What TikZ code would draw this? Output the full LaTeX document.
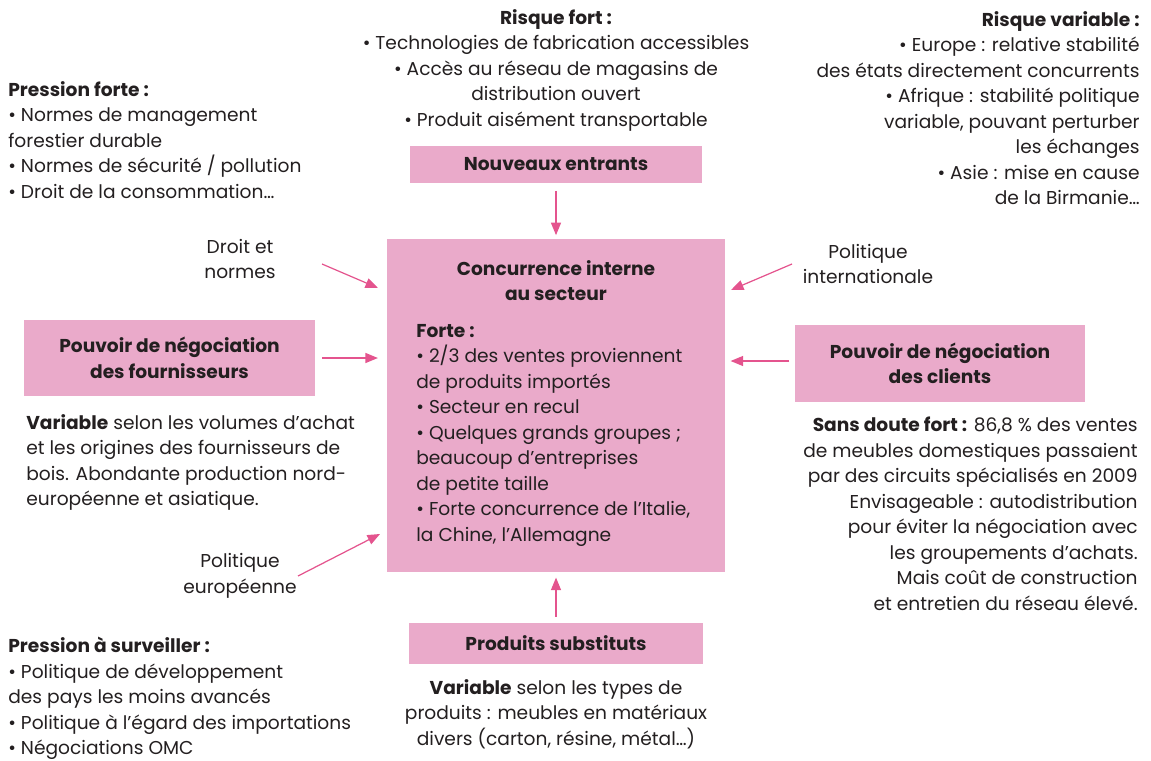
\documentclass[tikz,border=0pt]{standalone}
\usepackage{fontspec}
\setmainfont{Poppins}
\usetikzlibrary{arrows.meta}

\definecolor{boxpink}{RGB}{234,170,202}
\definecolor{arrowpink}{RGB}{228,84,142}
\definecolor{inkgray}{RGB}{35,31,32}

\tikzset{
  force/.style={fill=boxpink, inner sep=0pt, align=center, text=inkgray, font=\fontsize{10.6}{14.5}\selectfont\bfseries},
  txt/.style={inner sep=0pt, text=inkgray, font=\fontsize{10.6}{14.5}\selectfont},
  arr/.style={arrowpink, line width=0.7pt, -{Triangle[length=0.25cm,width=0.2cm]}},
}

\begin{document}
\begin{tikzpicture}[x=0.02cm, y=-0.02cm]
\useasboundingbox (0,0) rectangle (1151,760);

\node[force, minimum width=5.86cm, minimum height=0.76cm] (entrants) at (556,164.5) {Nouveaux entrants};
\node[force, minimum width=6.76cm, minimum height=6.66cm] (conc) at (556,405.5) {};
\node[force, minimum width=5.82cm, minimum height=1.52cm] (fourn) at (169.5,358) {Pouvoir de négociation\\des fournisseurs};
\node[force, minimum width=5.8cm, minimum height=1.54cm] (clients) at (940,363.5) {Pouvoir de négociation\\des clients};
\node[force, minimum width=5.9cm, minimum height=0.82cm] (subst) at (556,643) {Produits substituts};

\node[txt, align=center, anchor=north, font=\fontsize{10.6}{14.5}\selectfont\bfseries] (conctitle) at (556,260) {Concurrence interne\\au secteur};
\node[txt, align=left, anchor=north west] (concinfo) at (416,324) {\textbf{Forte :}\\
• 2/3 des ventes proviennent\\
de produits importés\\
• Secteur en recul\\
• Quelques grands groupes ;\\
beaucoup d’entreprises\\
de petite taille\\
• Forte concurrence de l’Italie,\\
la Chine, l’Allemagne};

\node[txt, align=center, anchor=north] (risquefort) at (556,9) {\textbf{Risque fort :}\\
• Technologies de fabrication accessibles\\
• Accès au réseau de magasins de\\
distribution ouvert\\
• Produit aisément transportable};

\node[txt, align=right, anchor=north east] (risquevar) at (1140,11) {\textbf{Risque variable :}\\
• Europe : relative stabilité\\
des états directement concurrents\\
• Afrique : stabilité politique\\
variable, pouvant perturber\\
les échanges\\
• Asie : mise en cause\\
de la Birmanie…};

\node[txt, align=left, anchor=north west] (pressforte) at (8,81) {\textbf{Pression forte :}\\
• Normes de management\\
forestier durable\\
• Normes de sécurité / pollution\\
• Droit de la consommation…};

\node[txt, align=left, anchor=north west] (fourninfo) at (26,414) {\textbf{Variable} selon les volumes d’achat\\
et les origines des fournisseurs de\\
bois. Abondante production nord-\\
européenne et asiatique.};

\node[txt, align=right, anchor=north east] (clientsinfo) at (1138,417) {\textbf{Sans doute fort :} 86,8 \% des ventes\\
de meubles domestiques passaient\\
par des circuits spécialisés en 2009\\
Envisageable : autodistribution\\
pour éviter la négociation avec\\
les groupements d’achats.\\
Mais coût de construction\\
et entretien du réseau élevé.};

\node[txt, align=left, anchor=north west] (presssurv) at (8,637) {\textbf{Pression à surveiller :}\\
• Politique de développement\\
des pays les moins avancés\\
• Politique à l’égard des importations\\
• Négociations OMC};

\node[txt, align=center, anchor=north] (substinfo) at (556,679) {\textbf{Variable} selon les types de\\
produits : meubles en matériaux\\
divers (carton, résine, métal…)};

\node[txt, align=center] (droit) at (240,259) {Droit et\\normes};
\node[txt, align=center] (polint) at (868,264) {Politique\\internationale};
\node[txt, align=center] (poleur) at (240,576) {Politique\\européenne};

\coordinate (droitA) at (322,264);
\coordinate (droitB) at (378,288);
\coordinate (polintA) at (792,264);
\coordinate (polintB) at (731,290);
\coordinate (poleurA) at (298,576);
\coordinate (poleurB) at (380,534);

\draw[arr, shorten <=4pt, shorten >=2pt] (entrants) -- (conc);
\draw[arr, shorten <=3pt, shorten >=3pt] (subst) -- (conc);
\draw[arr, shorten <=4pt, shorten >=5pt] (fourn.east) -- (conc.west |- fourn.east);
\draw[arr, shorten <=3pt, shorten >=3pt] (clients.west |- 0,361) -- (conc.east |- 0,361);
\draw[arr] (droitA) -- (droitB);
\draw[arr] (polintA) -- (polintB);
\draw[arr] (poleurA) -- (poleurB);

\end{tikzpicture}
\end{document}
